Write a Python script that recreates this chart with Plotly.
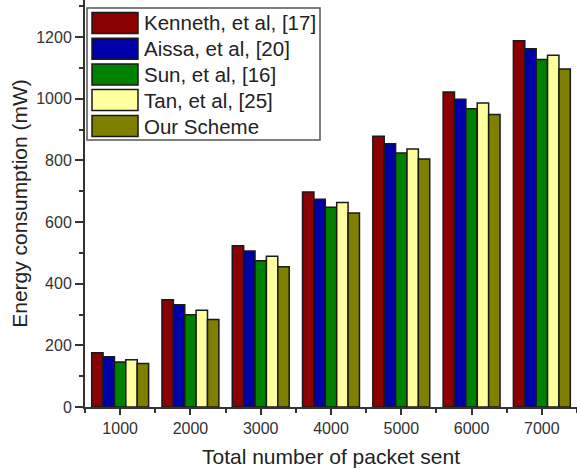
import plotly.graph_objects as go

packets = [1000, 2000, 3000, 4000, 5000, 6000, 7000]
tick_labels = ["1000", "2000", "3000", "4000", "5000", "6000", "7000"]

series_names = ["Kenneth, et al, [17]", "Aissa, et al, [20]", "Sun, et al, [16]",
                "Tan, et al, [25]", "Our Scheme"]
kenneth = [176, 348, 523, 697, 878, 1022, 1188]
aissa = [163, 332, 506, 674, 854, 998, 1162]
sun = [146, 299, 474, 648, 824, 967, 1127]
tan = [153, 314, 489, 663, 837, 986, 1141]
ours = [141, 284, 455, 629, 804, 949, 1096]
series_values = [kenneth, aissa, sun, tan, ours]
colors = ["#8b0000", "#0000a8", "#008000", "#ffffa0", "#808000"]

W, H = 577, 469
ML, MR, MT, MB = 85, 0, 0, 62
PW, PH = W - ML - MR, H - MT - MB

def px(x):
    return (x - ML) / PW

def py(y):
    return (H - MB - y) / PH

fig = go.Figure()
for name, vals, col in zip(series_names, series_values, colors):
    fig.add_trace(go.Bar(x=packets, y=vals, name=name, marker_color=col,
                         marker_line_color="#1a1a1a", marker_line_width=1.5,
                         showlegend=False))

# custom legend built from the series lists
shapes = [dict(type="rect", xref="paper", yref="paper",
               x0=px(87), x1=px(320), y0=py(140), y1=py(8),
               line=dict(color="#555555", width=1.5), fillcolor="white", layer="above")]
annotations = []
row_centers = [23, 48.7, 74.5, 100, 126]
for name, col, yc in zip(series_names, colors, row_centers):
    shapes.append(dict(type="rect", xref="paper", yref="paper",
                       x0=px(92), x1=px(138), y0=py(yc + 10.5), y1=py(yc - 10.5),
                       line=dict(color="#1a1a1a", width=1.5), fillcolor=col, layer="above"))
    annotations.append(dict(xref="paper", yref="paper", x=px(142), y=py(yc),
                            text=name, showarrow=False, xanchor="left", yanchor="middle",
                            font=dict(size=20.5, color="#222222")))

axis_font = dict(family="Liberation Sans, Arial, sans-serif", size=16, color="#333333")
fig.update_layout(
    width=W, height=H,
    margin=dict(l=ML, r=MR, t=MT, b=MB),
    paper_bgcolor="white", plot_bgcolor="white",
    barmode="group", bargap=0.19, bargroupgap=0,
    font=dict(family="Liberation Sans, Arial, sans-serif", color="#222222"),
    shapes=shapes, annotations=annotations,
    xaxis=dict(range=[500, 7500], tickvals=packets, ticktext=tick_labels,
               showline=True, linecolor="#333333", linewidth=2,
               ticks="outside", ticklen=6, tickwidth=1.5, tickcolor="#333333",
               tickfont=axis_font, showgrid=False, zeroline=False,
               minor=dict(tick0=500, dtick=1000, ticks="outside", ticklen=4,
                          tickwidth=1.5, tickcolor="#333333", showgrid=False),
               title=dict(text="Total number of packet sent",
                          font=dict(size=21, color="#222222"), standoff=13)),
    yaxis=dict(range=[0, 1320], tickvals=[0, 200, 400, 600, 800, 1000, 1200],
               showline=True, linecolor="#333333", linewidth=2,
               ticks="outside", ticklen=8, tickwidth=1.5, tickcolor="#333333",
               tickfont=axis_font, showgrid=False, zeroline=False,
               minor=dict(tick0=0, dtick=100, ticks="outside", ticklen=4,
                          tickwidth=1.5, tickcolor="#333333", showgrid=False),
               title=dict(text="Energy consumption (mW)",
                          font=dict(size=21, color="#222222"), standoff=3)),
)

fig.write_html("out.html", config={"displayModeBar": False},
               post_script="document.body.style.margin='0';document.body.style.overflow='hidden';")
